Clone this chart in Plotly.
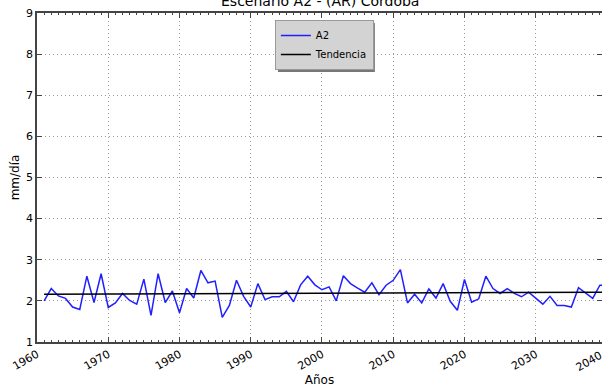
import plotly.graph_objects as go

# yearly series
years = list(range(1961, 2041))
a2_values = [
    2.00, 2.30, 2.12, 2.06, 1.85, 1.79, 2.60, 1.96, 2.66, 1.84,
    1.95, 2.18, 2.01, 1.92, 2.53, 1.65, 2.66, 1.96, 2.24, 1.71,
    2.30, 2.07, 2.74, 2.44, 2.48, 1.60, 1.89, 2.50, 2.11, 1.85,
    2.42, 2.03, 2.10, 2.10, 2.23, 1.98, 2.39, 2.60, 2.39, 2.27,
    2.34, 2.00, 2.61, 2.42, 2.31, 2.21, 2.44, 2.15, 2.38, 2.50,
    2.76, 1.95, 2.16, 1.95, 2.29, 2.07, 2.42, 1.99, 1.77, 2.52,
    1.97, 2.05, 2.60, 2.30, 2.18, 2.30, 2.18, 2.10, 2.21, 2.06,
    1.92, 2.11, 1.89, 1.89, 1.85, 2.32, 2.19, 2.06, 2.38, 2.37,
]
trend_years = [1961, 2040]
trend_values = [2.16, 2.21]
x_ticks = [1960, 1970, 1980, 1990, 2000, 2010, 2020, 2030]
y_ticks = [1, 2, 3, 4, 5, 6, 7, 8, 9]

font = "DejaVu Sans"

fig = go.Figure()
fig.add_trace(go.Scatter(x=years, y=a2_values, mode="lines", name="A2",
                         line=dict(color="#2020ff", width=1.5)))
fig.add_trace(go.Scatter(x=trend_years, y=trend_values, mode="lines", name="Tendencia",
                         line=dict(color="black", width=1.5)))

axis_common = dict(showline=True, linecolor="#444", linewidth=1.5, mirror="ticks",
                   ticks="inside", ticklen=5, tickcolor="#444", automargin=False,
                   ticklabeloverflow="allow",
                   showgrid=True, gridcolor="#999", griddash="1px,3px", gridwidth=1,
                   zeroline=False, tickfont=dict(family=font, size=11, color="black"))

# the plot runs a little past the right edge of the window, so stop the range there
fig.update_xaxes(range=[1960, 2039.3], tickvals=x_ticks, tickangle=-30,
                 minor=dict(dtick=1, ticks="inside", ticklen=2, tickcolor="#444", showgrid=False),
                 title=dict(text="Años", font=dict(family=font, size=12, color="black"), standoff=2),
                 **axis_common)
fig.update_yaxes(range=[1, 9], tickvals=y_ticks,
                 title=dict(text="mm/día", font=dict(family=font, size=12, color="black"), standoff=4),
                 **axis_common)

# legend shadow
fig.add_shape(type="rect", xref="paper", yref="paper",
              x0=0.4265, x1=0.598, y0=0.8207, y1=0.9696,
              fillcolor="#777", line=dict(width=0), layer="below")

# title sits mostly above the top of the page, as in the reference
fig.add_annotation(text="Escenario A2 - (AR) Córdoba", xref="paper", yref="paper",
                   x=0.5, y=1, xanchor="center", yanchor="bottom", yshift=2,
                   showarrow=False, font=dict(family=font, size=14, color="black"))
# last tick label, half outside the window
fig.add_annotation(text="2040", xref="paper", yref="paper", x=1.0088, y=0,
                   xanchor="right", yanchor="top", yshift=-4, textangle=-30,
                   showarrow=False, font=dict(family=font, size=11, color="black"))

fig.update_layout(
    width=602, height=390,
    margin=dict(l=37, r=0, t=13, b=48, autoexpand=False),
    paper_bgcolor="white", plot_bgcolor="white",
    legend=dict(x=0.421, y=0.9787, xanchor="left", yanchor="top",
                bgcolor="#d3d3d3", bordercolor="#999", borderwidth=1,
                font=dict(family=font, size=10, color="black"),
                tracegroupgap=0, itemwidth=30),
    showlegend=True,
)

# drop the page's default body margin so the figure fills the window
fig.write_html("out.html", config={"displayModeBar": False},
               post_script="document.body.style.margin='0';")
